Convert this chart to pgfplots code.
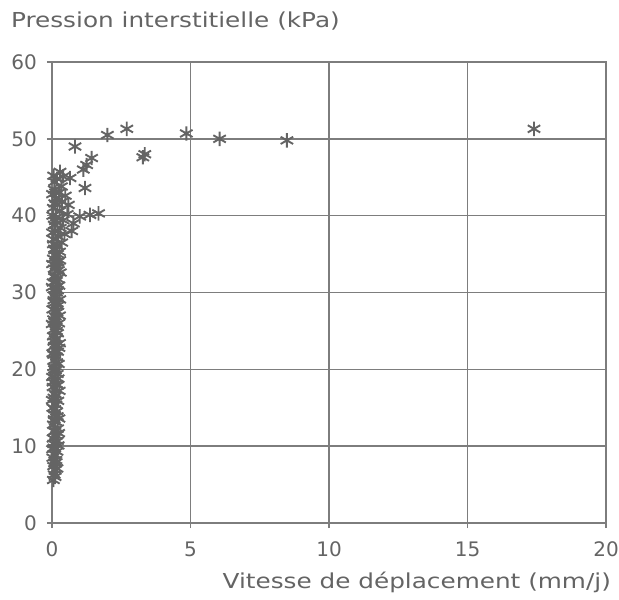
\documentclass[border=0pt]{standalone}
\usepackage{pgfplots}
\pgfplotsset{compat=1.18}
\usepackage{fontspec}
\setmainfont[FakeStretch=1.2]{DejaVu Sans}
\newfontfamily\tickfont{DejaVu Sans}
\definecolor{ink}{RGB}{100,100,100}
\definecolor{gridc}{RGB}{125,125,125}
\begin{document}
\begin{tikzpicture}
\useasboundingbox (-26pt,-38pt) rectangle (283.5pt,261.5pt);
\begin{axis}[
  scale only axis, width=277pt, height=230.5pt,
  xmin=0, xmax=20, ymin=0, ymax=60,
  xtick={0,5,10,15,20}, ytick={0,10,20,30,40,50,60},
  grid=major, major grid style={gridc, line width=0.8pt},
  axis line style={gridc, line width=0.8pt},
  tick style={gridc, line width=0.8pt},
  tick align=center, major tick length=5pt,
  xtick pos=bottom, ytick pos=left,
  ticklabel style={font=\tickfont\fontsize{10}{12}\selectfont, text=ink},
  xticklabel style={yshift=-3.5pt},
  yticklabel style={xshift=-1.5pt},
  /pgf/number format/assume math mode=true,
  clip=false]
\addplot[only marks, mark=asterisk, mark size=3.6pt, color=ink, line width=0.95pt] coordinates {
(0.05,5.6)(0.08,6.3)(0.12,6.9)(0.06,7.4)(0.15,7.9)(0.03,8.5)(0.10,8.9)(0.18,9.3)(0.07,9.8)(0.22,10.1)(0.13,10.5)(0.04,11.0)(0.16,11.4)(0.09,11.9)(0.20,12.3)(0.05,12.8)(0.12,13.2)(0.25,13.6)(0.08,14.1)(0.17,14.5)(0.03,15.0)
(0.14,15.4)(0.21,15.9)(0.07,16.3)(0.11,16.8)(0.26,17.2)(0.04,17.7)(0.16,18.1)(0.09,18.5)(0.02,19.0)(0.19,19.4)(0.13,19.9)(0.06,20.3)(0.23,20.7)(0.10,21.2)(0.17,21.6)(0.03,22.1)(0.14,22.5)(0.08,23.0)(0.27,23.4)(0.12,23.9)(0.05,24.3)(0.20,24.7)
(0.09,25.2)(0.15,25.6)(0.24,26.0)(0.06,26.5)(0.12,26.9)(0.18,27.4)(0.03,27.8)(0.21,28.3)(0.10,28.7)(0.28,29.1)(0.07,29.6)(0.16,30.0)(0.13,30.5)(0.25,30.9)(0.04,31.3)(0.19,31.8)(0.11,32.2)(0.30,32.6)(0.08,33.1)(0.15,33.5)(0.22,34.0)(0.05,34.4)(0.13,34.8)
(0.18,7.1)(0.02,9.6)(0.24,11.7)(0.10,14.8)(0.01,16.0)(0.22,18.8)(0.06,21.9)(0.25,22.8)(0.01,25.9)(0.27,27.0)(0.14,29.4)(0.01,30.7)(0.23,32.9)(0.02,33.7)(0.28,34.2)
(0.11,6.0)(0.14,8.2)(0.20,10.7)(0.11,12.0)(0.19,13.9)(0.15,16.6)(0.20,17.9)(0.12,19.6)(0.17,20.9)(0.20,22.3)(0.18,24.0)(0.16,25.0)(0.14,27.6)(0.19,28.6)(0.20,30.3)(0.16,31.5)(0.17,33.9)(0.20,35.0)
(0.09,7.8)(0.06,10.3)(0.08,13.5)(0.04,18.3)(0.09,20.0)(0.07,23.6)(0.09,26.2)(0.07,29.0)(0.09,32.0)(0.10,35.5)(0.05,36.3)(0.12,39.3)(0.10,41.6)(0.13,43.0)
(0.27,35.3)(0.09,35.7)(0.18,36.1)(0.35,36.5)(0.06,36.9)(0.22,37.3)(0.45,37.6)(0.12,38.0)(0.30,38.4)(0.71,38.0)(0.08,38.8)(0.20,39.1)(0.40,39.4)(0.77,39.0)(0.15,39.8)(0.55,40.2)(1.00,39.9)(0.28,40.6)(0.05,41.0)(0.59,41.4)(0.36,41.8)(0.14,42.2)(0.48,42.6)(0.25,43.0)(0.08,43.4)(0.34,43.8)(0.10,44.4)(0.18,44.8)(0.40,45.1)(0.65,44.9)(0.29,45.7)
(0.02,37.8)(0.03,40.0)(0.20,41.5)(0.02,42.8)(0.06,45.2)
(1.37,40.1)(1.68,40.3)(1.19,43.6)(1.13,46.0)(1.25,46.6)(1.43,47.5)(0.83,49.0)
(2.0,50.5)(2.7,51.3)(3.28,47.6)(3.35,48.0)(4.85,50.7)(6.05,50.0)(8.48,49.8)(17.4,51.3)
};
\end{axis}
\node[anchor=base west, font=\fontsize{10.3}{12}\selectfont, text=ink] at (-24pt,247.5pt) {Pression interstitielle (kPa)};
\node[anchor=base east, font=\fontsize{10.3}{12}\selectfont, text=ink] at (283pt,-32.5pt) {Vitesse de déplacement (mm/j)};
\end{tikzpicture}
\end{document}
